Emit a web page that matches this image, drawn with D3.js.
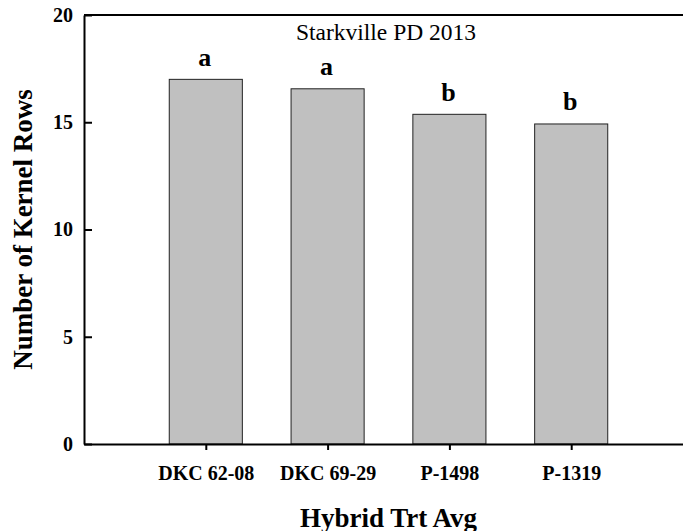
<!DOCTYPE html>
<html>
<head>
<meta charset="utf-8">
<script src="https://cdn.jsdelivr.net/npm/d3@7"></script>
<style>
  body { margin: 0; background: #fff; }
  svg { display: block; font-family: "Liberation Serif", "Times New Roman", serif; }
</style>
</head>
<body>
<div id="chart"></div>
<script>
// data
var hybrids = ["DKC 62-08", "DKC 69-29", "P-1498", "P-1319"];
var kernelRows = [17.0, 16.56, 15.37, 14.92];
var groups = ["a", "a", "b", "b"];
var yTicks = [0, 5, 10, 15, 20];

// set the dimensions and margins of the graph
var width = 683, height = 531;
var margin = {top: 15, right: -10, bottom: 87, left: 84},
    plotW = width - margin.left - margin.right,
    plotH = height - margin.top - margin.bottom;

var svg = d3.select("#chart").append("svg")
    .attr("width", width)
    .attr("height", height);

var g = svg.append("g")
    .attr("transform", "translate(" + margin.left + "," + margin.top + ")");

// scales: one slot either side of the bars
var x = d3.scaleLinear().domain([0, hybrids.length + 1]).range([0, plotW]);
var y = d3.scaleLinear().domain([0, 20]).range([plotH, 0]);
var step = x(1) - x(0);
var barW = step * 0.6;

// bars
g.selectAll("rect.bar")
    .data(kernelRows)
  .enter().append("rect")
    .attr("class", "bar")
    .attr("x", function(d, i) { return x(i + 1) - barW / 2; })
    .attr("y", function(d) { return y(d); })
    .attr("width", barW)
    .attr("height", function(d) { return plotH - y(d); })
    .attr("fill", "#c0c0c0")
    .attr("stroke", "#222")
    .attr("stroke-width", 1);

// significance letters
g.selectAll("text.grp")
    .data(kernelRows)
  .enter().append("text")
    .attr("class", "grp")
    .attr("x", function(d, i) { return x(i + 1) - 1; })
    .attr("y", function(d) { return y(d) - 13.5; })
    .attr("text-anchor", "middle")
    .style("font-size", "26px")
    .style("font-weight", "bold")
    .text(function(d, i) { return groups[i]; });

// y axis (ticks point inward)
var yAxis = g.append("g")
    .call(d3.axisLeft(y).tickValues(yTicks).tickSizeInner(-8).tickSizeOuter(0).tickPadding(11));
yAxis.selectAll("text")
    .style("font-size", "20px")
    .style("font-weight", "bold")
    .style("font-family", "'Liberation Serif', 'Times New Roman', serif")
    .attr("fill", "#000");

// x axis
var xAxis = g.append("g")
    .attr("transform", "translate(0," + plotH + ")")
    .call(d3.axisBottom(x)
      .tickValues(d3.range(1, hybrids.length + 1))
      .tickFormat(function(d) { return hybrids[d - 1]; })
      .tickSizeInner(6).tickSizeOuter(0).tickPadding(16));
xAxis.selectAll("text")
    .style("font-size", "20px")
    .style("font-weight", "bold")
    .style("font-family", "'Liberation Serif', 'Times New Roman', serif")
    .attr("fill", "#000");

svg.selectAll(".domain, .tick line")
    .attr("stroke", "#000")
    .attr("stroke-width", 2);

// top frame line
g.append("line")
    .attr("x1", 0).attr("x2", plotW)
    .attr("y1", 0).attr("y2", 0)
    .attr("stroke", "#000")
    .attr("stroke-width", 2);

// title inside the plot
g.append("text")
    .attr("x", (x(0) + x(hybrids.length + 1)) / 2 - 2.5)
    .attr("y", 24.5)
    .attr("text-anchor", "middle")
    .style("font-size", "23.5px")
    .text("Starkville PD 2013");

// axis titles
svg.append("text")
    .attr("x", margin.left + plotW / 2)
    .attr("y", 526.5)
    .attr("text-anchor", "middle")
    .style("font-size", "27px")
    .style("font-weight", "bold")
    .text("Hybrid Trt Avg");

svg.append("text")
    .attr("transform", "translate(32," + (margin.top + plotH / 2) + ") rotate(-90)")
    .attr("text-anchor", "middle")
    .style("font-size", "27px")
    .style("font-weight", "bold")
    .text("Number of Kernel Rows");
</script>
</body>
</html>
